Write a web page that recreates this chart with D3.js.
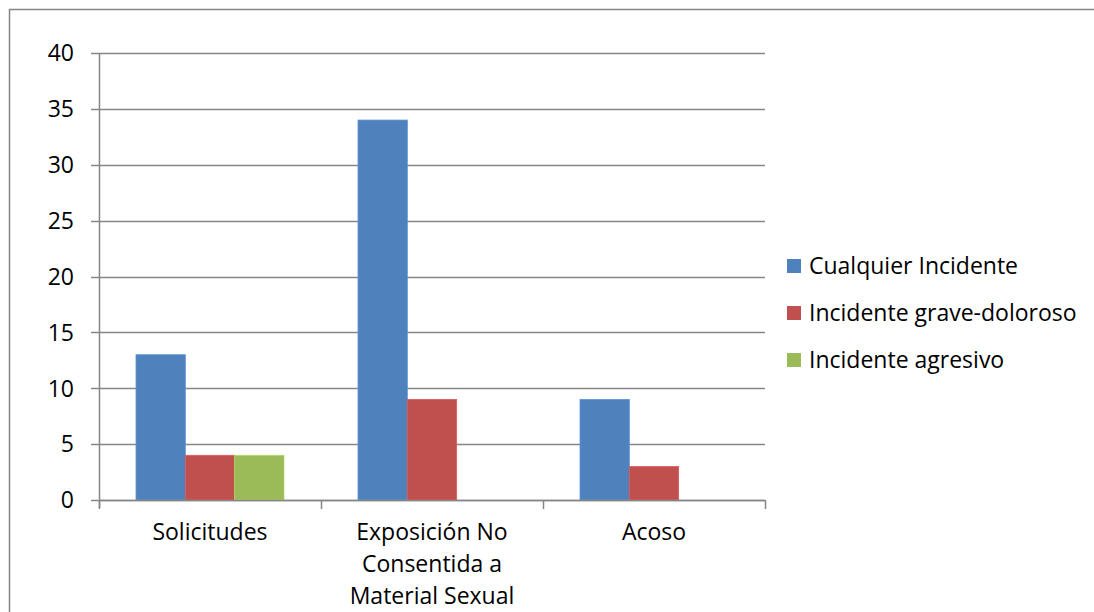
<!DOCTYPE html>
<html><head><meta charset="utf-8">
<script src="https://cdn.jsdelivr.net/npm/d3@7"></script>
<style>html,body{margin:0;padding:0;background:#fff;overflow:hidden}</style>
</head><body>
<svg id="c" width="1094" height="612"></svg>
<script>
const categories = [["Solicitudes"], ["Exposición No", "Consentida a", "Material Sexual"], ["Acoso"]];
const categoryKeys = ["Solicitudes", "Exposición No Consentida a Material Sexual", "Acoso"];
const seriesNames = ["Cualquier Incidente", "Incidente grave-doloroso", "Incidente agresivo"];
const cualquier = [13, 34, 9];
const grave = [4, 9, 3];
const agresivo = [4, 0, 0];
const yTicks = [0, 5, 10, 15, 20, 25, 30, 35, 40];
const colors = ["#4F81BD", "#C0504D", "#9BBB59"];

(function () {
const seriesValues = [cualquier, grave, agresivo];
const font = "'Open Sans', sans-serif";
const fs = 23;
const svg = d3.select("#c");
svg.append("rect").attr("x", 9.5).attr("y", 9.5).attr("width", 1100).attr("height", 700)
  .attr("fill", "#fff").attr("stroke", "#868686").attr("stroke-width", 1.5);

const pL = 99, pR = 765, pT = 53, pB = 500;
const x = d3.scaleBand().domain(categoryKeys).range([pL, pR]).paddingInner(0).paddingOuter(0);
const y = d3.scaleLinear().domain([0, 40]).range([pB, pT]);
const inner = d3.scaleBand().domain(seriesNames).range([0, x.bandwidth()]).paddingInner(0).paddingOuter(0.75);

const g = svg.append("g");
g.selectAll("line.grid").data(yTicks).join("line")
  .attr("x1", pL - 8).attr("x2", pR)
  .attr("y1", d => Math.round(y(d)) + 0.5).attr("y2", d => Math.round(y(d)) + 0.5)
  .attr("stroke", "#868686").attr("stroke-width", 1.5);

seriesNames.forEach((s, si) => {
  g.selectAll("rect.s" + si).data(categoryKeys.map((c, ci) => ({c, v: seriesValues[si][ci]})).filter(d => d.v > 0))
    .join("rect")
    .attr("x", d => x(d.c) + inner(s))
    .attr("width", inner.bandwidth())
    .attr("y", d => y(d.v))
    .attr("height", d => y(0) - y(d.v))
    .attr("fill", colors[si])
    .attr("stroke", d3.color(colors[si]).brighter(0.4)).attr("stroke-width", 0.8);
});

const ya = d3.axisLeft(y).tickValues(yTicks).tickSize(0).tickPadding(25);
const yg = svg.append("g").attr("transform", `translate(${pL},0)`).call(ya);
yg.select(".domain").attr("stroke", "#868686").attr("stroke-width", 1.5).attr("d", `M0.5,${pT}V${pB + 8}`);
yg.selectAll("text").attr("font-family", font).attr("font-size", fs).attr("fill", "#000").attr("dy", "0.34em");

svg.append("line").attr("x1", pL).attr("x2", pR).attr("y1", pB + 0.5).attr("y2", pB + 0.5)
  .attr("stroke", "#868686").attr("stroke-width", 1.5);
const tickXs = categoryKeys.map(c => x(c)).concat([pR]);
svg.selectAll("line.xt").data(tickXs).join("line")
  .attr("x1", d => Math.round(d) + 0.5).attr("x2", d => Math.round(d) + 0.5)
  .attr("y1", pB).attr("y2", pB + 9)
  .attr("stroke", "#868686").attr("stroke-width", 1.5);

const lab = svg.selectAll("text.cat").data(categories).join("text")
  .attr("font-family", font).attr("font-size", fs).attr("fill", "#000").attr("text-anchor", "middle");
lab.each(function(lines, i) {
  const cx = x(categoryKeys[i]) + x.bandwidth() / 2;
  d3.select(this).selectAll("tspan").data(lines).join("tspan")
    .attr("x", cx).attr("y", (d, j) => 540 + j * 32).text(d => d);
});

const lg = svg.append("g");
seriesNames.forEach((s, i) => {
  const cy = 266 + i * 47;
  lg.append("rect").attr("x", 787).attr("y", cy - 7).attr("width", 14).attr("height", 14).attr("fill", colors[i]);
  lg.append("text").attr("x", 809).attr("y", cy).attr("dy", "0.36em")
    .attr("font-family", font).attr("font-size", fs).attr("fill", "#000").text(s);
});
})();
</script>
</body></html>
